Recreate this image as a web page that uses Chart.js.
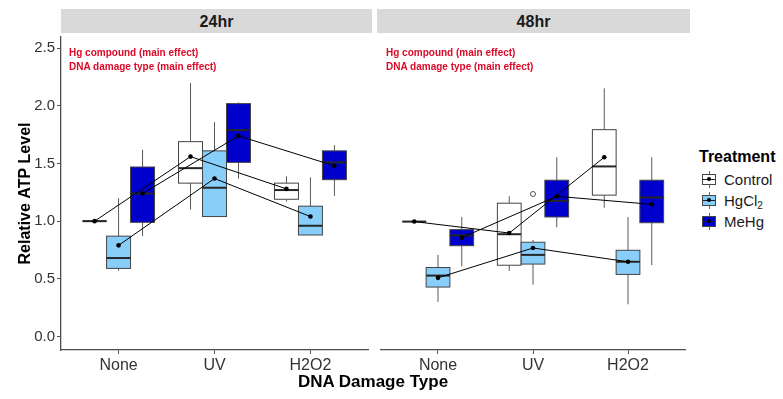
<!DOCTYPE html>
<html>
<head>
<meta charset="utf-8">
<title>Relative ATP level by DNA damage type</title>
<script src="https://cdn.jsdelivr.net/npm/chart.js@4.4.1/dist/chart.umd.min.js"></script>
<style>
  body { margin: 0; background: #fff; font-family: "Liberation Sans", Arial, sans-serif; }
  #wrap { position: relative; width: 783px; height: 399px; overflow: hidden; }
  .panel { position: absolute; top: 33px; height: 366px; }
  .strip { position: absolute; top: 9px; height: 24px; background: #d9d9d9; text-align: center;
           font-weight: bold; font-size: 16px; line-height: 25px; color: #1a1a1a; }
  .note { position: absolute; top: 46px; font-size: 10px; font-weight: bold; line-height: 14px;
          color: #dc0a28; white-space: nowrap; }
  .xtitle { position: absolute; left: 263px; width: 220px; top: 372px; text-align: center;
            font-weight: bold; font-size: 17px; line-height: 20px; color: #000; }
  .ltitle { position: absolute; left: 699px; top: 148px; font-weight: bold; font-size: 16px; line-height: 18px; }
  .item { position: absolute; left: 701px; height: 17px; font-size: 15px; line-height: 17px; color: #1a1a1a; }
  .item span { position: absolute; left: 23px; white-space: nowrap; }
  .item sub { font-size: 10px; vertical-align: -3px; line-height: 0; }
  .key { position: absolute; left: 0; top: 0; width: 16px; height: 17px;
         background: linear-gradient(#666, #666) center / 1px 100% no-repeat; }
  .key i { position: absolute; left: 1px; top: 3px; width: 14px; height: 11px; box-sizing: border-box;
           border: 1px solid #444; background: var(--fill); }
  .key i::before { content: ""; position: absolute; left: 0; right: 0; top: 4px; height: 1px; background: #222; }
  .key i::after { content: ""; position: absolute; left: 4px; top: 2px; width: 4px; height: 4px;
                  border-radius: 50%; background: #000; }
</style>
</head>
<body>
<div id="wrap">
  <div class="strip" style="left:61px; width:311px;">24hr</div>
  <div class="strip" style="left:377px; width:313px;">48hr</div>

  <div class="panel" style="left:0; width:372px;"><canvas id="panel24" width="372" height="366"></canvas></div>
  <div class="panel" style="left:376px; width:314px;"><canvas id="panel48" width="314" height="366"></canvas></div>

  <div class="note" style="left:69px;">Hg compound (main effect)<br>DNA damage type (main effect)</div>
  <div class="note" style="left:386px;">Hg compound (main effect)<br>DNA damage type (main effect)</div>

  <div class="xtitle">DNA Damage Type</div>

  <div class="ltitle">Treatment</div>
  <div class="item" style="top:171px;"><div class="key"><i style="--fill:#ffffff"></i></div><span>Control</span></div>
  <div class="item" style="top:192px;"><div class="key"><i style="--fill:#87cefa"></i></div><span>HgCl<sub>2</sub></span></div>
  <div class="item" style="top:213px;"><div class="key"><i style="--fill:#0000cd"></i></div><span>MeHg</span></div>
</div>

<script>
const categories = ["None", "UV", "H2O2"];
const treatments = ["Control", "HgCl2", "MeHg"];
const fills = ["#ffffff", "#87cefa", "#0000cd"];
const yTicks = [0, 0.5, 1, 1.5, 2, 2.5];

// box stats per damage type: [lower whisker, q1, median, q3, upper whisker]
const control24 = [[1, 1, 1, 1, 1], [1.10, 1.33, 1.46, 1.69, 2.20], [1.17, 1.19, 1.27, 1.33, 1.39]];
const hgcl24 = [[0.57, 0.59, 0.68, 0.87, 1.20], [1.04, 1.04, 1.29, 1.61, 1.86], [0.88, 0.88, 0.96, 1.13, 1.38]];
const mehg24 = [[0.87, 0.99, 1.24, 1.47, 1.62], [1.37, 1.51, 1.79, 2.02, 2.03], [1.22, 1.36, 1.51, 1.61, 1.66]];

const control48 = [[1, 1, 1, 1, 1], [0.57, 0.62, 0.89, 1.16, 1.22], [1.12, 1.23, 1.48, 1.80, 2.16]];
const hgcl48 = [[0.30, 0.43, 0.53, 0.60, 0.71], [0.45, 0.63, 0.71, 0.82, 0.84], [0.28, 0.54, 0.65, 0.75, 1.04]];
const mehg48 = [[0.61, 0.79, 0.88, 0.93, 1.04], [0.95, 1.04, 1.18, 1.36, 1.56], [0.62, 0.99, 1.21, 1.36, 1.56]];

// group means, joined by lines
const control24Mean = [1.00, 1.56, 1.28];
const hgcl24Mean = [0.79, 1.37, 1.04];
const mehg24Mean = [1.24, 1.74, 1.48];

const control48Mean = [1.00, 0.90, 1.56];
const hgcl48Mean = [0.51, 0.77, 0.65];
const mehg48Mean = [0.86, 1.22, 1.15];

const hgcl48Outliers = [[], [1.24], []];

Chart.defaults.font.family = '"Liberation Sans", Arial, sans-serif';

const dodge = 0.25;
const posX = (c, t) => c + 1 + (t - 1) * dodge;

/* Boxes and whiskers, drawn under the mean lines */

function boxPlugin(stats) {
    return {
        id: "boxes",
        beforeDatasetsDraw(chart) {
            const { ctx, scales: { x, y } } = chart;
            stats.forEach((rows, t) => {
                rows.forEach((s, c) => {
                    const cx = posX(c, t);
                    const left = x.getPixelForValue(cx - dodge / 2);
                    const right = x.getPixelForValue(cx + dodge / 2);
                    const mid = x.getPixelForValue(cx);
                    const [lo, q1, med, q3, hi] = s.map(v => y.getPixelForValue(v));

                    ctx.save();
                    ctx.lineWidth = 1;
                    ctx.strokeStyle = "#5a5a5a";
                    ctx.beginPath();
                    ctx.moveTo(mid, hi); ctx.lineTo(mid, q3);
                    ctx.moveTo(mid, q1); ctx.lineTo(mid, lo);
                    ctx.stroke();

                    ctx.fillStyle = fills[t];
                    ctx.fillRect(left, q3, right - left, q1 - q3);
                    ctx.strokeStyle = "#444";
                    ctx.strokeRect(left, q3, right - left, q1 - q3);

                    ctx.strokeStyle = "#262626";
                    ctx.lineWidth = 2;
                    ctx.beginPath();
                    ctx.moveTo(left, med); ctx.lineTo(right, med);
                    ctx.stroke();
                    ctx.restore();
                });
            });
        }
    };
}

function meanSet(means, t) {
    return {
        label: treatments[t],
        data: means.map((m, c) => ({ x: posX(c, t), y: m })),
        borderColor: "#000",
        borderWidth: 1,
        pointRadius: 2.3,
        pointBackgroundColor: "#000",
        pointBorderWidth: 0,
        tension: 0
    };
}

function outlierSet(outliers, t) {
    const pts = [];
    outliers.forEach((vals, c) => vals.forEach(v => pts.push({ x: posX(c, t), y: v })));
    return {
        type: "scatter",
        label: treatments[t] + " outliers",
        data: pts,
        showLine: false,
        pointRadius: 2.5,
        pointBackgroundColor: "#fff",
        pointBorderColor: "#555",
        pointBorderWidth: 1
    };
}

function panel(canvasId, stats, means, outliers, showY) {

    const datasets = means.map((m, t) => meanSet(m, t));
    if (outliers) datasets.push(outlierSet(outliers, 1));

    return new Chart(document.getElementById(canvasId), {
        type: "line",
        data: { datasets },
        plugins: [boxPlugin(stats)],
        options: {
            responsive: false,
            animation: false,
            devicePixelRatio: 1,
            layout: { padding: { left: showY ? 0 : 1, right: 0, top: 0, bottom: 0 } },
            plugins: { legend: { display: false }, tooltip: { enabled: false } },
            scales: {
                x: {
                    type: "linear",
                    min: 0.4,
                    max: 3.6,
                    afterBuildTicks: scale => { scale.ticks = categories.map((_, i) => ({ value: i + 1 })); },
                    afterFit: scale => {
                        scale.height = 49;
                        scale.paddingLeft = 0;
                        scale.paddingRight = 0;
                    },
                    ticks: {
                        callback: v => categories[v - 1],
                        font: { size: 16 },
                        color: "#333",
                        padding: 2,
                        maxRotation: 0
                    },
                    grid: { drawOnChartArea: false, drawTicks: true, tickLength: 4, color: "#555" },
                    border: { display: true, color: "#4d4d4d", width: 1.3 }
                },
                y: {
                    display: showY,
                    min: -0.118,
                    max: 2.598,
                    afterBuildTicks: scale => { scale.ticks = yTicks.map(v => ({ value: v })); },
                    afterFit: scale => {
                        scale.width = showY ? 61 : 0;
                        scale.paddingTop = 0;
                        scale.paddingBottom = 0;
                    },
                    ticks: {
                        callback: v => v.toFixed(1),
                        font: { size: 15 },
                        color: "#333",
                        padding: 2
                    },
                    grid: { drawOnChartArea: false, drawTicks: true, tickLength: 4, color: "#555" },
                    border: { display: true, color: "#4d4d4d", width: 1.3 },
                    title: {
                        display: showY,
                        text: "Relative ATP Level",
                        font: { size: 16, weight: "bold" },
                        color: "#000",
                        padding: { top: 16, bottom: 0 }
                    }
                }
            }
        }
    });
}

panel("panel24",
    [control24, hgcl24, mehg24],
    [control24Mean, hgcl24Mean, mehg24Mean],
    null, true);

panel("panel48",
    [control48, hgcl48, mehg48],
    [control48Mean, hgcl48Mean, mehg48Mean],
    hgcl48Outliers, false);
</script>
</body>
</html>
